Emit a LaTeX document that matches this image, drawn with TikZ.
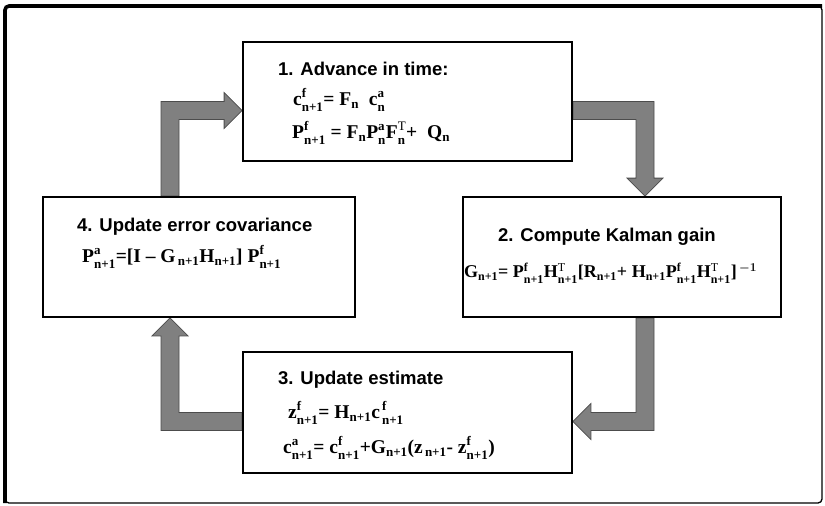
\documentclass[tikz,border=0pt]{standalone}
\usepackage{amsmath}
\usepackage{fontspec}
\setmainfont{Liberation Serif}
\setsansfont{Liberation Sans}
\usetikzlibrary{calc,positioning,backgrounds}
\DeclareMathSizes{19.5}{19.5}{13}{10}
\DeclareMathSizes{18}{18}{12}{9}

% symbol with super- and subscript, and with subscript only
\newcommand{\kv}[3]{#1$^{\text{#2}}_{\text{#3}}$}
\newcommand{\kvs}[2]{#1$_{\text{#2}}$}

\tikzset{
  stepbox/.style={draw, line width=1.8pt, inner sep=0pt},
  boxtitle/.style={anchor=west, inner sep=0pt, font=\sffamily\bfseries\fontsize{18.5}{20}\selectfont},
  formula/.style={anchor=west, inner sep=0pt, font=\rmfamily\bfseries\boldmath\fontsize{19.5}{21}\selectfont},
  tightformula/.style={formula, font=\rmfamily\bfseries\boldmath\fontsize{18}{20}\selectfont},
  blockarrow/.style={fill=black!50, draw=black!70, line width=0.8pt, line join=miter}
}

\begin{document}
\begin{tikzpicture}[x=1pt,y=1pt]
    \useasboundingbox (0,0) rectangle (825,-506);

    % Frame
    \draw[line width=1.3pt, rounded corners=4pt] (5,-6) rectangle (822,-503);
    \draw[line width=3.6pt, rounded corners=4pt] (5,-503) -- (5,-6) -- (822,-6);

    % Boxes
    \node[stepbox, minimum width=329pt, minimum height=119pt] (adv) at (407.5,-101.5) {};
    \node[stepbox, minimum width=318pt, minimum height=120pt] (gain) at (622,-257) {};
    \node[stepbox, minimum width=329pt, minimum height=121pt] (est) at (407.5,-412.5) {};
    \node[stepbox, minimum width=312pt, minimum height=120pt] (cov) at (199,-257) {};

    % 1. Advance in time
    \node[boxtitle] (advtitle) at (278,-69) {1. Advance in time:};
    \node[formula] (advc) at (293,-100) {\kv{c}{f}{n+1}= \kvs{F}{n}\ \ \kv{c}{a}{n}};
    \node[formula] (advp) at (292,-133) {\kv{P}{f}{n+1} = \kvs{F}{n}\kv{P}{a}{n}\kv{F}{\mdseries T}{n}+ \ \kvs{Q}{n}};

    % 2. Compute Kalman gain
    \node[boxtitle] (gaintitle) at (498,-237) {2. Compute Kalman gain};
    \node[tightformula] (gaing) at (464,-273) {\kvs{G}{n+1}= \kv{P}{f}{n+1}\kv{H}{\mdseries T}{n+1}[\kvs{R}{n+1}+ \kvs{H}{n+1}\kv{P}{f}{n+1}\kv{H}{\mdseries T}{n+1}]$^{\,-1}$};

    % 3. Update estimate
    \node[boxtitle] (esttitle) at (278,-380) {3. Update estimate};
    \node[formula] (estz) at (288,-413) {\kv{z}{f}{n+1}= \kvs{H}{n+1}\kv{c}{\,f}{\,n+1}};
    \node[formula] (estc) at (283,-448) {\kv{c}{a}{n+1}= \kv{c}{f}{n+1}+\kvs{G}{n+1}(\kvs{z}{\,n+1}- \kv{z}{f}{n+1})};

    % 4. Update error covariance
    \node[boxtitle] (covtitle) at (77,-227) {4. Update error covariance};
    \node[formula] (covp) at (82,-257) {\kv{P}{a}{n+1}=[I -- \kvs{G}{\,n+1}\kvs{H}{n+1}] \kv{P}{f}{n+1}};

    % Block arrows
    \coordinate (s12) at ($(adv.east)+(0,-9)$);
    \coordinate (t12) at ($(gain.north)+(23,0)$);
    \coordinate (c12) at (t12 |- s12);
    \coordinate (s23) at ($(gain.south)+(23,0)$);
    \coordinate (t23) at ($(est.east)+(0,-9)$);
    \coordinate (c23) at (s23 |- t23);
    \coordinate (s34) at ($(est.west)+(0,-9)$);
    \coordinate (t34) at ($(cov.south)+(-29,0)$);
    \coordinate (c34) at (t34 |- s34);
    \coordinate (s41) at ($(cov.north)+(-29,0)$);
    \coordinate (t41) at ($(adv.west)+(0,-9)$);
    \coordinate (c41) at (s41 |- t41);
    \begin{scope}[on background layer]
    \draw[blockarrow] ($(s12)+(0,9)$) -- ($(c12)+(9,9)$) -- ($(t12)+(9,18)$) -- ($(t12)+(18,18)$) -- (t12)
        -- ($(t12)+(-18,18)$) -- ($(t12)+(-9,18)$) -- ($(c12)+(-9,-9)$) -- ($(s12)+(0,-9)$) -- cycle;
    \draw[blockarrow] ($(s23)+(-9,0)$) -- ($(c23)+(-9,9)$) -- ($(t23)+(18,9)$) -- ($(t23)+(18,18)$) -- (t23)
        -- ($(t23)+(18,-18)$) -- ($(t23)+(18,-9)$) -- ($(c23)+(9,-9)$) -- ($(s23)+(9,0)$) -- cycle;
    \draw[blockarrow] ($(s34)+(0,9)$) -- ($(c34)+(9,9)$) -- ($(t34)+(9,-18)$) -- ($(t34)+(18,-18)$) -- (t34)
        -- ($(t34)+(-18,-18)$) -- ($(t34)+(-9,-18)$) -- ($(c34)+(-9,-9)$) -- ($(s34)+(0,-9)$) -- cycle;
    \draw[blockarrow] ($(s41)+(9,0)$) -- ($(c41)+(9,-9)$) -- ($(t41)+(-18,-9)$) -- ($(t41)+(-18,-18)$) -- (t41)
        -- ($(t41)+(-18,18)$) -- ($(t41)+(-18,9)$) -- ($(c41)+(-9,9)$) -- ($(s41)+(-9,0)$) -- cycle;
    \end{scope}
\end{tikzpicture}
\end{document}
